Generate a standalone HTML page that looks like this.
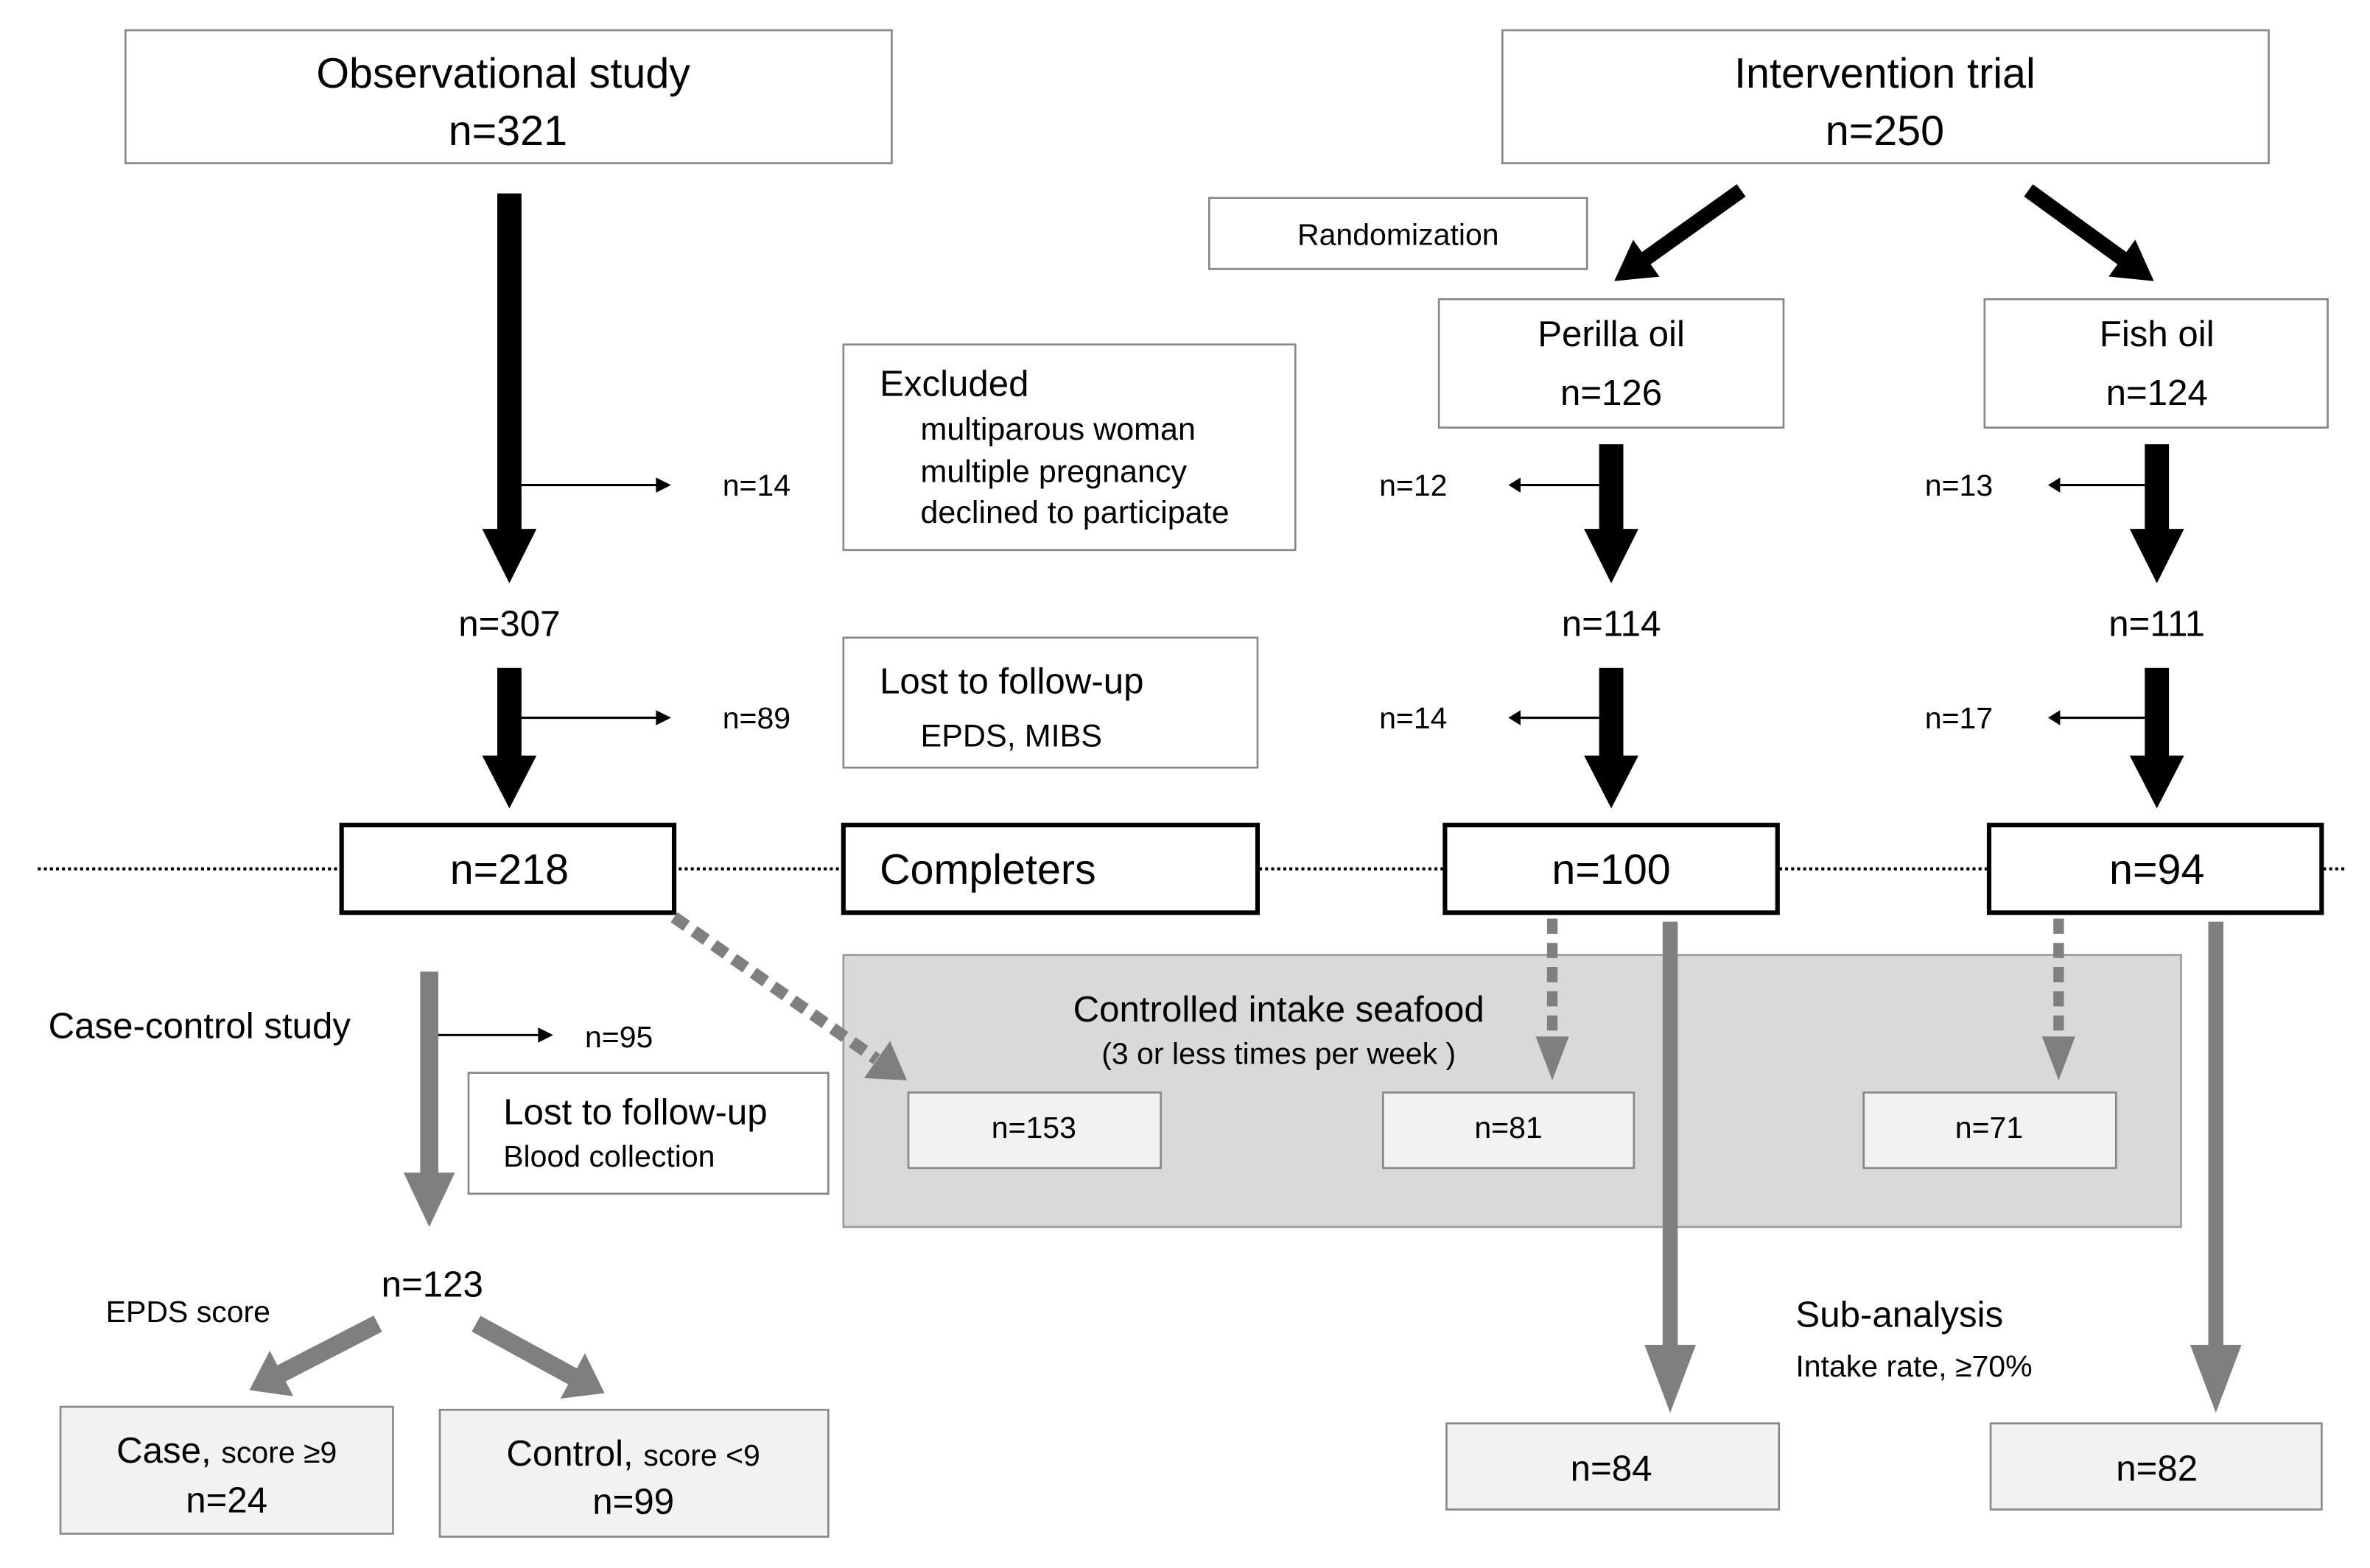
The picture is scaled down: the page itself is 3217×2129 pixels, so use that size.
<!DOCTYPE html>
<html><head><meta charset="utf-8"><style>html,body{margin:0;padding:0;background:#fff}svg{display:block}text{font-family:"Liberation Sans",Arial,sans-serif;fill:#000}</style></head>
<body>
<svg width="3217" height="2129" viewBox="0 0 1568 1037.7" preserveAspectRatio="none" xmlns="http://www.w3.org/2000/svg">
<!-- top boxes -->
<rect x="83" y="20" width="507" height="88" fill="#fff" stroke="#888" stroke-width="1.3"/>
<text x="333" y="58" font-size="28" text-anchor="middle">Observational study</text>
<text x="336" y="96" font-size="28" text-anchor="middle">n=321</text>
<rect x="994" y="20" width="507" height="88" fill="#fff" stroke="#888" stroke-width="1.3"/>
<text x="1247" y="58" font-size="28" text-anchor="middle">Intervention trial</text>
<text x="1247" y="96" font-size="28" text-anchor="middle">n=250</text>

<rect x="800" y="131" width="250" height="47" fill="#fff" stroke="#888" stroke-width="1.3"/>
<text x="925" y="162" font-size="20" text-anchor="middle">Randomization</text>

<!-- diagonal black arrows -->
<line x1="1152" y1="126" x2="1089" y2="171" stroke="#000" stroke-width="10"/>
<polygon points="1068,186 1097.9,183.1 1080.5,158.7" fill="#000"/>
<line x1="1342" y1="126" x2="1404" y2="171" stroke="#000" stroke-width="10"/>
<polygon points="1425,186 1395.1,183 1412.7,158.6" fill="#000"/>

<rect x="952" y="198" width="228" height="85" fill="#fff" stroke="#888" stroke-width="1.3"/>
<text x="1066" y="229" font-size="24" text-anchor="middle">Perilla oil</text>
<text x="1066" y="268" font-size="24" text-anchor="middle">n=126</text>
<rect x="1313" y="198" width="227" height="85" fill="#fff" stroke="#888" stroke-width="1.3"/>
<text x="1427" y="229" font-size="24" text-anchor="middle">Fish oil</text>
<text x="1427" y="268" font-size="24" text-anchor="middle">n=124</text>

<!-- left black arrows -->
<rect x="329" y="128" width="16" height="224" fill="#000"/>
<polygon points="319,350 355,350 337,386" fill="#000"/>
<line x1="345" y1="321" x2="436" y2="321" stroke="#000" stroke-width="1.5"/>
<polygon points="444,321 434,316 434,326" fill="#000"/>
<text x="478" y="328" font-size="20">n=14</text>
<text x="337" y="421" font-size="24" text-anchor="middle">n=307</text>
<rect x="329" y="442" width="16" height="60" fill="#000"/>
<polygon points="319,500 355,500 337,535" fill="#000"/>
<line x1="345" y1="475" x2="436" y2="475" stroke="#000" stroke-width="1.5"/>
<polygon points="444,475 434,470 434,480" fill="#000"/>
<text x="478" y="482" font-size="20">n=89</text>

<rect x="558" y="228" width="299" height="136" fill="#fff" stroke="#888" stroke-width="1.3"/>
<text x="582" y="262" font-size="24">Excluded</text>
<text x="609" y="291" font-size="21">multiparous woman</text>
<text x="609" y="319" font-size="21">multiple pregnancy</text>
<text x="609" y="346" font-size="21">declined to participate</text>
<rect x="558" y="422" width="274" height="86" fill="#fff" stroke="#888" stroke-width="1.3"/>
<text x="582" y="459" font-size="24">Lost to follow-up</text>
<text x="609" y="494" font-size="21">EPDS, MIBS</text>

<!-- perilla/fish black arrows -->
<g fill="#000">
<rect x="1058" y="294" width="16" height="58"/><polygon points="1048,350 1084,350 1066,386"/>
<rect x="1419" y="294" width="16" height="58"/><polygon points="1409,350 1445,350 1427,386"/>
<rect x="1058" y="442" width="16" height="60"/><polygon points="1048,500 1084,500 1066,535"/>
<rect x="1419" y="442" width="16" height="60"/><polygon points="1409,500 1445,500 1427,535"/>
<polygon points="998,321 1006,316 1006,326"/><polygon points="998,475 1006,470 1006,480"/>
<polygon points="1355,321 1363,316 1363,326"/><polygon points="1355,475 1363,470 1363,480"/>
</g>
<g stroke="#000" stroke-width="1.5">
<line x1="1004" y1="321" x2="1058" y2="321"/><line x1="1004" y1="475" x2="1058" y2="475"/>
<line x1="1361" y1="321" x2="1419" y2="321"/><line x1="1361" y1="475" x2="1419" y2="475"/>
</g>
<text x="935" y="328" font-size="20" text-anchor="middle">n=12</text>
<text x="935" y="482" font-size="20" text-anchor="middle">n=14</text>
<text x="1296" y="328" font-size="20" text-anchor="middle">n=13</text>
<text x="1296" y="482" font-size="20" text-anchor="middle">n=17</text>
<text x="1066" y="421" font-size="24" text-anchor="middle">n=114</text>
<text x="1427" y="421" font-size="24" text-anchor="middle">n=111</text>

<!-- dotted line -->
<line x1="25" y1="575" x2="1552" y2="575" stroke="#000" stroke-width="2" stroke-dasharray="2,2"/>
<g fill="#fff" stroke="#000" stroke-width="3">
<rect x="226" y="546" width="220" height="58"/>
<rect x="558" y="546" width="274" height="58"/>
<rect x="956" y="546" width="220" height="58"/>
<rect x="1316" y="546" width="220" height="58"/>
</g>
<text x="337" y="585" font-size="28" text-anchor="middle">n=218</text>
<text x="582" y="585" font-size="28">Completers</text>
<text x="1066" y="585" font-size="28" text-anchor="middle">n=100</text>
<text x="1427" y="585" font-size="28" text-anchor="middle">n=94</text>

<!-- gray area -->
<rect x="558" y="632" width="885" height="180" fill="#d9d9d9" stroke="#9a9a9a" stroke-width="1.3"/>
<text x="846" y="676" font-size="24" text-anchor="middle">Controlled intake seafood</text>
<text x="846" y="704" font-size="20" text-anchor="middle">(3 or less times per week )</text>
<g fill="#f2f2f2" stroke="#888" stroke-width="1.3">
<rect x="601" y="723" width="167" height="50"/>
<rect x="915" y="723" width="166" height="50"/>
<rect x="1233" y="723" width="167" height="50"/>
</g>
<text x="684" y="753" font-size="20" text-anchor="middle">n=153</text>
<text x="998" y="753" font-size="20" text-anchor="middle">n=81</text>
<text x="1316" y="753" font-size="20" text-anchor="middle">n=71</text>

<!-- gray dashed arrows -->
<line x1="446" y1="607" x2="580" y2="701" stroke="#7f7f7f" stroke-width="8" stroke-dasharray="10,6"/>
<polygon points="600,715 571.7,713.5 588.9,688.9" fill="#7f7f7f"/>
<line x1="1027" y1="608" x2="1027" y2="688" stroke="#7f7f7f" stroke-width="7" stroke-dasharray="10,6"/>
<polygon points="1016,686 1038,686 1027,715" fill="#7f7f7f"/>
<line x1="1362" y1="608" x2="1362" y2="688" stroke="#7f7f7f" stroke-width="7" stroke-dasharray="10,6"/>
<polygon points="1351,686 1373,686 1362,715" fill="#7f7f7f"/>

<!-- gray solid arrows -->
<rect x="1100" y="610" width="10" height="282" fill="#7f7f7f"/>
<polygon points="1088,890 1122,890 1105,935" fill="#7f7f7f"/>
<rect x="1461" y="610" width="10" height="282" fill="#7f7f7f"/>
<polygon points="1449,890 1483,890 1466,935" fill="#7f7f7f"/>
<text x="1188" y="878" font-size="24">Sub-analysis</text>
<text x="1188" y="911" font-size="20">Intake rate, ≥70%</text>
<g fill="#f2f2f2" stroke="#888" stroke-width="1.3">
<rect x="957" y="942" width="220" height="57"/>
<rect x="1317" y="942" width="219" height="57"/>
<rect x="40" y="931" width="220" height="84"/>
<rect x="291" y="933" width="257" height="84"/>
</g>
<text x="1066" y="980" font-size="24" text-anchor="middle">n=84</text>
<text x="1427" y="980" font-size="24" text-anchor="middle">n=82</text>

<!-- case-control -->
<text x="32" y="687" font-size="24">Case-control study</text>
<rect x="278" y="643" width="12" height="136" fill="#7f7f7f"/>
<polygon points="267,776 301,776 284,812" fill="#7f7f7f"/>
<line x1="290" y1="685" x2="358" y2="685" stroke="#000" stroke-width="1.5"/>
<polygon points="366,685 356,680 356,690" fill="#000"/>
<text x="387" y="693" font-size="20">n=95</text>
<rect x="310" y="710" width="238" height="80" fill="#fff" stroke="#888" stroke-width="1.3"/>
<text x="333" y="744" font-size="24">Lost to follow-up</text>
<text x="333" y="772" font-size="20">Blood collection</text>
<text x="286" y="858" font-size="24" text-anchor="middle">n=123</text>
<text x="70" y="875" font-size="20">EPDS  score</text>
<line x1="250" y1="876" x2="186" y2="909" stroke="#7f7f7f" stroke-width="12"/>
<polygon points="165,920 194.1,924.1 178.5,893.9" fill="#7f7f7f"/>
<line x1="315" y1="876" x2="379" y2="911" stroke="#7f7f7f" stroke-width="12"/>
<polygon points="400,922 370.8,925.6 387,895.6" fill="#7f7f7f"/>
<text x="150" y="968" font-size="24" text-anchor="middle">Case, <tspan font-size="20">score ≥9</tspan></text>
<text x="150" y="1001" font-size="24" text-anchor="middle">n=24</text>
<text x="419" y="970" font-size="24" text-anchor="middle">Control, <tspan font-size="20">score &lt;9</tspan></text>
<text x="419" y="1002" font-size="24" text-anchor="middle">n=99</text>
</svg>
</body></html>
